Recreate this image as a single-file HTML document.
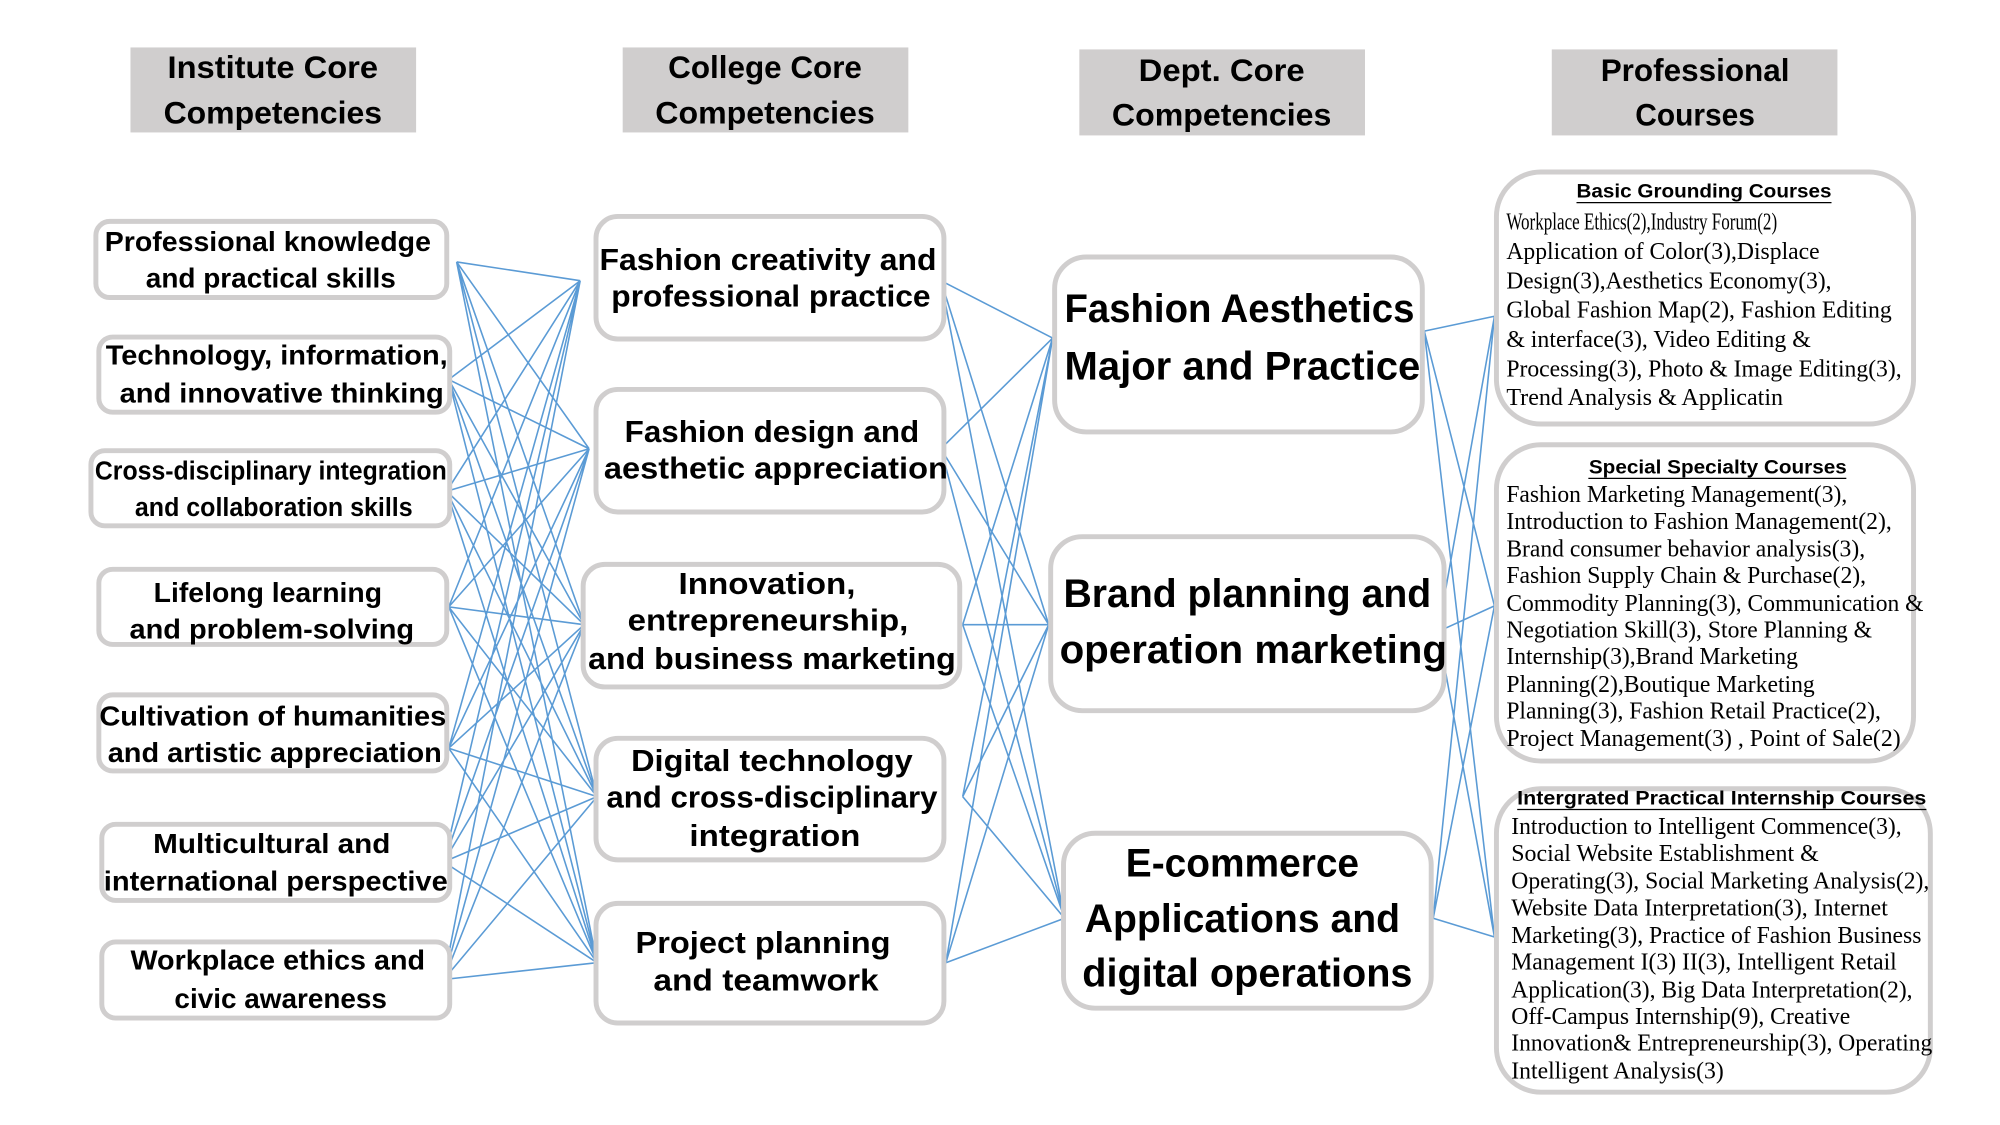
<!DOCTYPE html>
<html><head><meta charset="utf-8"><style>html,body{margin:0;padding:0;background:#fff}svg{display:block}</style></head><body>
<svg xmlns="http://www.w3.org/2000/svg" width="2000" height="1125" viewBox="0 0 2000 1125">
<g transform="scale(0.9884)">
<g fill="#d0cece"><rect x="132" y="48" width="289" height="86"/><rect x="630" y="48" width="289" height="86"/><rect x="1092" y="50" width="289" height="87"/><rect x="1570" y="50" width="289" height="87"/></g>
<g font-family="Liberation Sans, sans-serif" font-weight="bold" font-size="32" fill="#000" text-anchor="middle">
<text x="276" y="79" textLength="213" lengthAdjust="spacingAndGlyphs">Institute Core</text>
<text x="276" y="125" textLength="221" lengthAdjust="spacingAndGlyphs">Competencies</text>
<text x="774" y="79" textLength="196" lengthAdjust="spacingAndGlyphs">College Core</text>
<text x="774" y="125" textLength="222" lengthAdjust="spacingAndGlyphs">Competencies</text>
<text x="1236" y="82" textLength="168" lengthAdjust="spacingAndGlyphs">Dept. Core</text>
<text x="1236" y="127" textLength="222" lengthAdjust="spacingAndGlyphs">Competencies</text>
<text x="1715" y="82" textLength="191" lengthAdjust="spacingAndGlyphs">Professional</text>
<text x="1715" y="127" textLength="121" lengthAdjust="spacingAndGlyphs">Courses</text>
</g>
<g stroke="#5b9bd5" stroke-width="1.6" fill="none">
<path d="M462 265L587 284M462 265L596 454M462 265L591 632M462 265L604 806M462 265L604 974
M454 384L587 284M454 384L596 454M454 384L591 632M454 384L604 806M454 384L604 974
M452 497L587 284M452 497L596 454M452 497L591 632M452 497L604 806M452 497L604 974
M454 614L587 284M454 614L596 454M454 614L591 632M454 614L604 806M454 614L604 974
M454 757L587 284M454 757L596 454M454 757L591 632M454 757L604 806M454 757L604 974
M449 872L587 284M449 872L596 454M449 872L591 632M449 872L604 806M449 872L604 974
M449 991L587 284M449 991L596 454M449 991L591 632M449 991L604 806M449 991L604 974
M952 284L1065 342M952 284L1061 632M952 284L1077 929
M952 454L1065 342M952 454L1061 632M952 454L1077 929
M974 632L1065 342M974 632L1061 632M974 632L1077 929
M974 806L1065 342M974 806L1061 632M974 806L1077 929
M957 974L1065 342M957 974L1061 632M957 974L1077 929
M1441 335L1512 320M1441 335L1512 613M1441 335L1512 948
M1455 639L1512 320M1455 639L1512 613M1455 639L1512 948
M1450 929L1512 320M1450 929L1512 613M1450 929L1512 948"/>
</g>
<g fill="#fff" stroke="#d0cece" stroke-width="5">
<rect x="97" y="224" width="355" height="77" rx="14"/>
<rect x="100" y="341" width="355" height="76" rx="14"/>
<rect x="92" y="456" width="363" height="76" rx="14"/>
<rect x="100" y="576" width="352" height="76" rx="14"/>
<rect x="100" y="703" width="352" height="77" rx="14"/>
<rect x="103" y="834" width="352" height="77" rx="14"/>
<rect x="103" y="953" width="352" height="77" rx="14"/>
<rect x="603" y="219" width="352" height="124" rx="22"/>
<rect x="603" y="394" width="352" height="124" rx="22"/>
<rect x="590" y="571" width="381" height="124" rx="22"/>
<rect x="603" y="747" width="352" height="123" rx="22"/>
<rect x="603" y="914" width="352" height="121" rx="22"/>
<rect x="1067" y="260" width="372" height="177" rx="32"/>
<rect x="1063" y="543" width="398" height="176" rx="32"/>
<rect x="1076" y="843" width="372" height="177" rx="32"/>
<rect x="1514" y="174" width="422" height="255" rx="45"/>
<rect x="1514" y="450" width="422" height="320" rx="45"/>
<rect x="1514" y="798" width="439" height="307" rx="45"/>
</g>
<g font-family="Liberation Sans, sans-serif" font-weight="bold" fill="#000" text-anchor="middle">
<g font-size="28">
<text x="271" y="254" textLength="330" lengthAdjust="spacingAndGlyphs">Professional knowledge</text>
<text x="274" y="291" textLength="253" lengthAdjust="spacingAndGlyphs">and practical skills</text>
<text x="280" y="369" textLength="346" lengthAdjust="spacingAndGlyphs">Technology, information,</text>
<text x="285" y="407" textLength="328" lengthAdjust="spacingAndGlyphs">and innovative thinking</text>
<text x="274" y="485" textLength="356" lengthAdjust="spacingAndGlyphs" font-size="26">Cross-disciplinary integration</text>
<text x="277" y="522" textLength="281" lengthAdjust="spacingAndGlyphs" font-size="26">and collaboration skills</text>
<text x="271" y="609" textLength="231" lengthAdjust="spacingAndGlyphs">Lifelong learning</text>
<text x="275" y="646" textLength="288" lengthAdjust="spacingAndGlyphs">and problem-solving</text>
<text x="276" y="734" textLength="351" lengthAdjust="spacingAndGlyphs">Cultivation of humanities</text>
<text x="278" y="771" textLength="338" lengthAdjust="spacingAndGlyphs">and artistic appreciation</text>
<text x="275" y="863" textLength="240" lengthAdjust="spacingAndGlyphs">Multicultural and</text>
<text x="279" y="901" textLength="348" lengthAdjust="spacingAndGlyphs">international perspective</text>
<text x="281" y="981" textLength="298" lengthAdjust="spacingAndGlyphs">Workplace ethics and</text>
<text x="284" y="1020" textLength="215" lengthAdjust="spacingAndGlyphs">civic awareness</text>
</g>
<g font-size="31">
<text x="777" y="273" textLength="341" lengthAdjust="spacingAndGlyphs">Fashion creativity and</text>
<text x="780" y="310" textLength="323" lengthAdjust="spacingAndGlyphs">professional practice</text>
<text x="781" y="447" textLength="298" lengthAdjust="spacingAndGlyphs">Fashion design and</text>
<text x="785" y="484" textLength="348" lengthAdjust="spacingAndGlyphs">aesthetic appreciation</text>
<text x="776" y="601" textLength="179" lengthAdjust="spacingAndGlyphs">Innovation,</text>
<text x="777" y="638" textLength="284" lengthAdjust="spacingAndGlyphs">entrepreneurship,</text>
<text x="781" y="677" textLength="372" lengthAdjust="spacingAndGlyphs">and business marketing</text>
<text x="781" y="780" textLength="285" lengthAdjust="spacingAndGlyphs">Digital technology</text>
<text x="781" y="817" textLength="335" lengthAdjust="spacingAndGlyphs">and cross-disciplinary</text>
<text x="784" y="856" textLength="173" lengthAdjust="spacingAndGlyphs">integration</text>
<text x="772" y="964" textLength="258" lengthAdjust="spacingAndGlyphs">Project planning</text>
<text x="775" y="1002" textLength="228" lengthAdjust="spacingAndGlyphs">and teamwork</text>
</g>
<g font-size="40">
<text x="1254" y="326" textLength="354" lengthAdjust="spacingAndGlyphs">Fashion Aesthetics</text>
<text x="1257" y="384" textLength="360" lengthAdjust="spacingAndGlyphs">Major and Practice</text>
<text x="1262" y="614" textLength="372" lengthAdjust="spacingAndGlyphs">Brand planning and</text>
<text x="1268" y="671" textLength="392" lengthAdjust="spacingAndGlyphs">operation marketing</text>
<text x="1257" y="887" textLength="236" lengthAdjust="spacingAndGlyphs">E-commerce</text>
<text x="1257" y="943" textLength="319" lengthAdjust="spacingAndGlyphs">Applications and</text>
<text x="1262" y="998" textLength="334" lengthAdjust="spacingAndGlyphs">digital operations</text>
</g>
<g font-size="20">
<text x="1724" y="200" textLength="258" lengthAdjust="spacingAndGlyphs">Basic Grounding Courses</text>
<text x="1738" y="479" textLength="261" lengthAdjust="spacingAndGlyphs">Special Specialty Courses</text>
<text x="1742" y="814" textLength="414" lengthAdjust="spacingAndGlyphs">Intergrated Practical Internship Courses</text>
</g>
</g>
<g stroke="#000" stroke-width="1.3"><path d="M1595 205H1853M1607 484H1868M1535 819H1949"/></g>
<g font-family="Liberation Serif, serif" font-size="25" fill="#000">
<text x="1524" y="232" textLength="274" lengthAdjust="spacingAndGlyphs">Workplace Ethics(2),Industry Forum(2)</text>
<text x="1524" y="262" textLength="317" lengthAdjust="spacingAndGlyphs">Application of Color(3),Displace</text>
<text x="1524" y="292" textLength="329" lengthAdjust="spacingAndGlyphs">Design(3),Aesthetics Economy(3),</text>
<text x="1524" y="321" textLength="390" lengthAdjust="spacingAndGlyphs">Global Fashion Map(2), Fashion Editing</text>
<text x="1524" y="351" textLength="308" lengthAdjust="spacingAndGlyphs">&amp; interface(3), Video Editing &amp;</text>
<text x="1524" y="381" textLength="400" lengthAdjust="spacingAndGlyphs">Processing(3), Photo &amp; Image Editing(3),</text>
<text x="1524" y="410" textLength="280" lengthAdjust="spacingAndGlyphs">Trend Analysis &amp; Applicatin</text>

<text x="1524" y="508" textLength="345" lengthAdjust="spacingAndGlyphs">Fashion Marketing Management(3),</text>
<text x="1524" y="535" textLength="390" lengthAdjust="spacingAndGlyphs">Introduction to Fashion Management(2),</text>
<text x="1524" y="563" textLength="363" lengthAdjust="spacingAndGlyphs">Brand consumer behavior analysis(3),</text>
<text x="1524" y="590" textLength="364" lengthAdjust="spacingAndGlyphs">Fashion Supply Chain &amp; Purchase(2),</text>
<text x="1524" y="618" textLength="422" lengthAdjust="spacingAndGlyphs">Commodity Planning(3), Communication &amp;</text>
<text x="1524" y="645" textLength="370" lengthAdjust="spacingAndGlyphs">Negotiation Skill(3), Store Planning &amp;</text>
<text x="1524" y="672" textLength="295" lengthAdjust="spacingAndGlyphs">Internship(3),Brand Marketing</text>
<text x="1524" y="700" textLength="312" lengthAdjust="spacingAndGlyphs">Planning(2),Boutique Marketing</text>
<text x="1524" y="727" textLength="379" lengthAdjust="spacingAndGlyphs">Planning(3), Fashion Retail Practice(2),</text>
<text x="1524" y="755" textLength="399" lengthAdjust="spacingAndGlyphs">Project Management(3) , Point of Sale(2)</text>

<text x="1529" y="844" textLength="395" lengthAdjust="spacingAndGlyphs">Introduction to Intelligent Commence(3),</text>
<text x="1529" y="871" textLength="311" lengthAdjust="spacingAndGlyphs">Social Website Establishment &amp;</text>
<text x="1529" y="899" textLength="423" lengthAdjust="spacingAndGlyphs">Operating(3), Social Marketing Analysis(2),</text>
<text x="1529" y="926" textLength="381" lengthAdjust="spacingAndGlyphs">Website Data Interpretation(3), Internet</text>
<text x="1529" y="954" textLength="415" lengthAdjust="spacingAndGlyphs">Marketing(3), Practice of Fashion Business</text>
<text x="1529" y="981" textLength="390" lengthAdjust="spacingAndGlyphs">Management I(3) II(3), Intelligent Retail</text>
<text x="1529" y="1009" textLength="406" lengthAdjust="spacingAndGlyphs">Application(3), Big Data Interpretation(2),</text>
<text x="1529" y="1036" textLength="343" lengthAdjust="spacingAndGlyphs">Off-Campus Internship(9), Creative</text>
<text x="1529" y="1063" textLength="426" lengthAdjust="spacingAndGlyphs">Innovation&amp; Entrepreneurship(3), Operating</text>
<text x="1529" y="1091" textLength="215" lengthAdjust="spacingAndGlyphs">Intelligent Analysis(3)</text>
</g>
</g>
</svg>
</body></html>
